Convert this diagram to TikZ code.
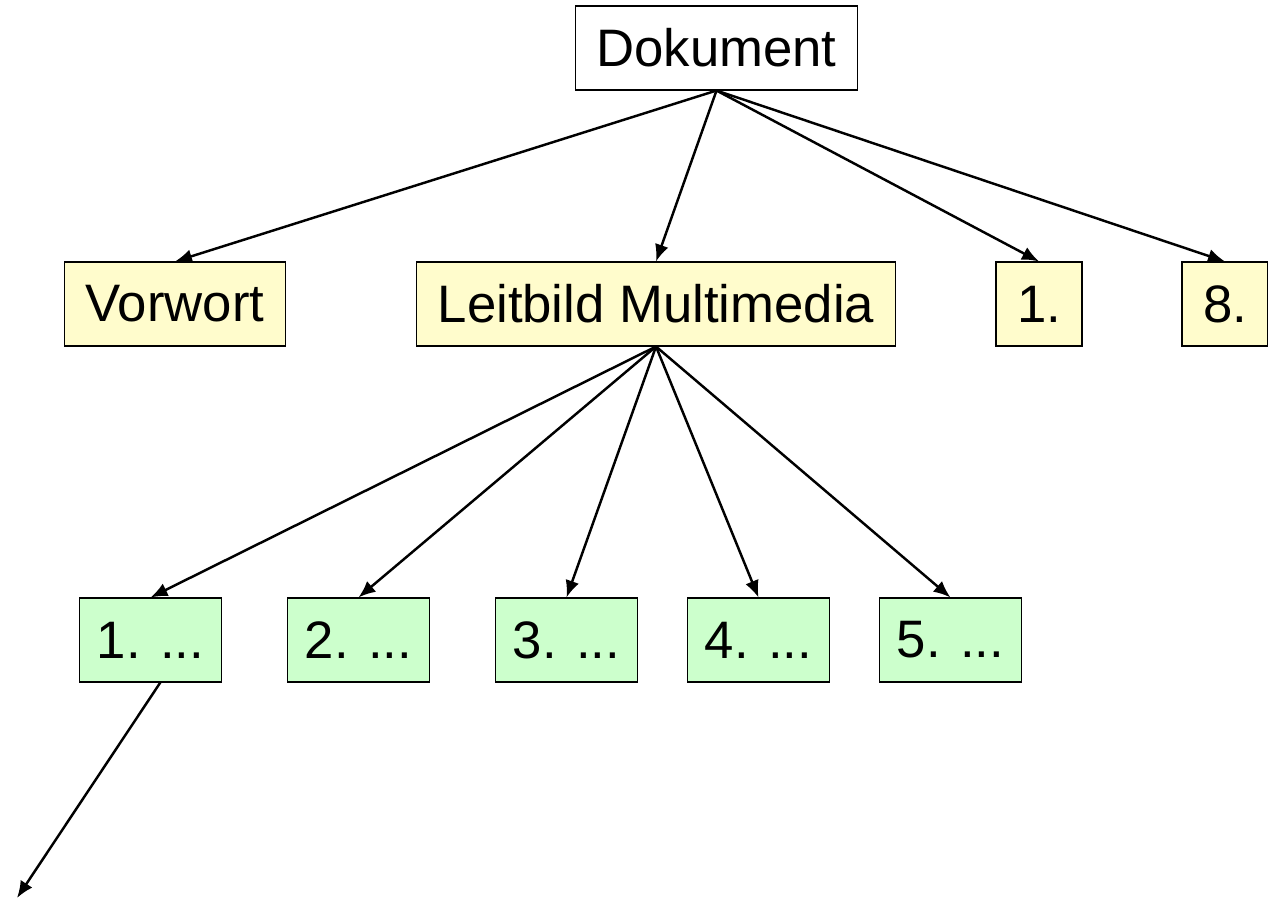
\documentclass[tikz,border=0pt]{standalone}
\usepackage{fontspec}
\setmainfont{Liberation Sans}
\usetikzlibrary{shapes,arrows.meta}

\begin{document}
\begin{tikzpicture}[auto]
        % Define block styles
        \tikzstyle{root} = [rectangle, draw, line width=0.6pt, fill=white,
            inner xsep=0.42cm, minimum width=1.68cm, minimum height=1.68cm,
            font=\fontsize{30}{36}\selectfont]
        \tikzstyle{chapter} = [root, fill=yellow!20]
        \tikzstyle{section} = [root, fill=green!20, inner xsep=0.34cm]
        \tikzstyle{line} = [draw, line width=1.4pt, -{Latex[length=0.34cm,width=0.28cm]}]

        \useasboundingbox (0,0) rectangle (25.36,-18.06);

        % Nodes
        \node [root] (doc) at (14.33,-0.96) {Dokument};
        \node [chapter] (vorwort) at (3.5,-6.08) {Vorwort};
        \node [chapter, right of=vorwort, node distance=9.62cm] (leitbild) {Leitbild Multimedia};
        \node [chapter, right of=leitbild, node distance=7.66cm] (kap1) {1.};
        \node [chapter, right of=kap1, node distance=3.72cm] (kap8) {8.};

        \node [section] (sec1) at (3.01,-12.8) {1. ...};
        \node [section, right of=sec1, node distance=4.16cm] (sec2) {2. ...};
        \node [section, right of=sec2, node distance=4.16cm] (sec3) {3. ...};
        \node [section, right of=sec3, node distance=3.84cm] (sec4) {4. ...};
        \node [section, right of=sec4, node distance=3.84cm] (sec5) {5. ...};
        \coordinate (deeper) at (0.34,-17.96);

        % Arrows
        \path [line] (doc.south) -- (vorwort.north);
        \path [line] (doc.south) -- (leitbild.north);
        \path [line] (doc.south) -- (kap1.north);
        \path [line] (doc.south) -- (kap8.north);
        \path [line] (leitbild.south) -- (sec1.north);
        \path [line] (leitbild.south) -- (sec2.north);
        \path [line] (leitbild.south) -- (sec3.north);
        \path [line] (leitbild.south) -- (sec4.north);
        \path [line] (leitbild.south) -- (sec5.north);
        \path [line] (sec1.283) -- (deeper);
    \end{tikzpicture}
\end{document}
